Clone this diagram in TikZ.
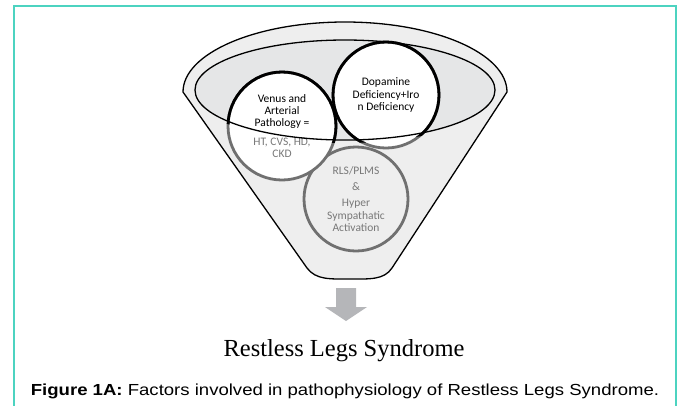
\documentclass[tikz,border=0pt]{standalone}
\usepackage{fontspec}
\setmainfont{Liberation Serif}
\setsansfont{Liberation Sans}
\newfontfamily\circleFont{Carlito}
\usetikzlibrary{positioning}
\tikzstyle{canvas} = [x = 1pt, y = -1pt]
\definecolor{frameColor}{HTML}{4CD3C0}
\definecolor{funnelFill}{RGB}{238,238,238}
\definecolor{bowlFill}{RGB}{229,230,231}
\definecolor{ringGrey}{RGB}{112,112,112}
\definecolor{textGrey}{RGB}{120,120,120}
\definecolor{arrowGrey}{RGB}{181,182,185}
\tikzstyle{funnelStyle} = [draw=black, fill=funnelFill, line width=1.3pt, line join=round]
\tikzstyle{bowlStyle} = [draw=black, line width=1.3pt]
\tikzstyle{ringNode} = [circle, inner sep=0pt, align=center, font=\circleFont\fontsize{11.5}{12.2}\selectfont]
\tikzstyle{greyRing} = [draw=ringGrey, line width=2.8pt]
\tikzstyle{blackRing} = [draw=black, line width=2.8pt]
\newcommand{\ringRadius}{54pt}

\begin{document}
\begin{tikzpicture}[canvas]
    \useasboundingbox (0,0) rectangle (678,405);
    % frame
    \draw [frameColor, line width=1.6pt] (14,412) -- (14,6) -- (676,6) -- (676,412);
    % funnel and bowl
    \filldraw [funnelStyle] (183,92) arc [start angle=180, end angle=0, x radius=162pt, y radius=70pt]
        -- (392,268) .. controls (384,280) and (370,279) .. (350,279)
        .. controls (330,279) and (316,280) .. (307,268) -- cycle;
    \fill [bowlFill] (345,90) ellipse [x radius=150pt, y radius=50pt];
    % circles
    \node [ringNode, greyRing, fill=funnelFill, text=textGrey, minimum size=104pt] (rls) at (356,199)
        {RLS/PLMS\\[4pt] \&\\[4pt] Hyper\\ Sympathatic\\ Activation};
    \node [ringNode, greyRing, fill=white, minimum size=108pt] (venus) at (282,126)
        {Venus and\\ Arterial\\ Pathology =\\[7pt] \textcolor{textGrey}{HT, CVS, HD,}\\ \textcolor{textGrey}{CKD}};
    \node [ringNode, greyRing, fill=white, minimum size=106pt] (dopamine) at (386,95)
        {Dopamine\\ Deficiency+Iro\\ n Deficiency};
    \begin{scope}
        \clip (345,90) ellipse [x radius=153pt, y radius=53pt];
        \draw [blackRing] (venus.center) circle [radius=\ringRadius];
        \draw [blackRing] (dopamine.center) circle [radius=53pt];
    \end{scope}
    \draw [bowlStyle] (345,90) ellipse [x radius=150pt, y radius=50pt];
    % arrow
    \coordinate (arrowTop) at (346,288);
    \fill [arrowGrey] (arrowTop) ++(-10,0) -- ++(20,0) -- ++(0,19) -- ++(11,0) -- ++(-21,14)
        -- ++(-21,-14) -- ++(11,0) -- cycle;
    \node (syndrome) at (344,351) {\fontsize{24.5}{28}\selectfont Restless Legs Syndrome};
    \node (caption) at (345,391) {\scalebox{1.16}[1]{\sffamily\fontsize{16}{18}\selectfont \textbf{Figure 1A:} Factors involved in pathophysiology of Restless Legs Syndrome.}};
\end{tikzpicture}
\end{document}
